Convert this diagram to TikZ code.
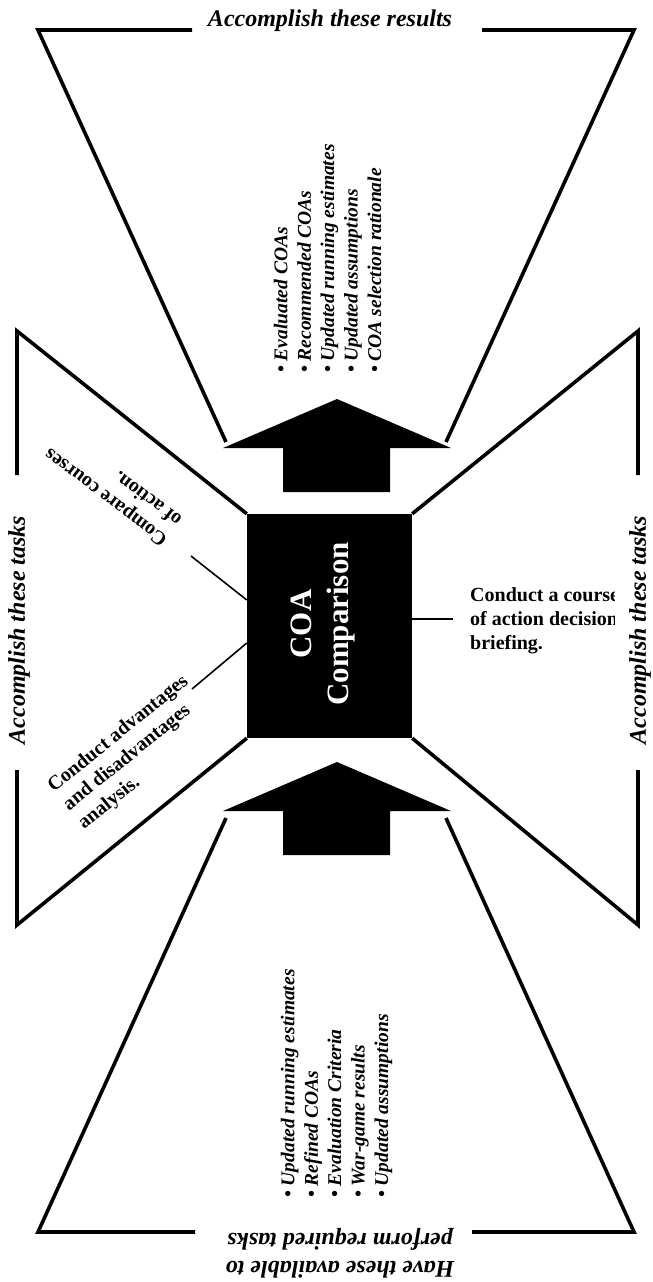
\documentclass[tikz,border=0pt]{standalone}
\usepackage{fontspec}
\setmainfont{Liberation Serif}
\begin{document}
\begin{tikzpicture}[x=1pt,y=-1pt,
  frame/.style={line width=3.6pt},
  leader/.style={line width=1.6pt},
  headtxt/.style={font=\fontsize{24}{28}\selectfont\bfseries\itshape, inner sep=0pt, align=center},
  tasktxt/.style={font=\fontsize{20}{24}\selectfont\bfseries, align=left, inner sep=0pt, anchor=base west},
  listtxt/.style={font=\fontsize{19.5}{23.4}\selectfont\bfseries\itshape, align=left, inner sep=0pt, rotate=90, anchor=base west},
  bigarrow/.style={fill=black}
]
\path[use as bounding box] (0,0) rectangle (653,1282);
\fill[white] (0,0) rectangle (653,1282);

% central block
\node[fill=black, minimum width=165pt, minimum height=224pt, inner sep=0pt] (box) at (329.5,626) {};
\node[rotate=90, text=white, font=\fontsize{31}{37}\selectfont\bfseries, align=center, inner sep=0pt] (boxlabel) at (323,624) {COA\\Comparison};

% corner points of the four funnels
\coordinate (tTL) at (38,30);   \coordinate (tTR) at (634,30);
\coordinate (tGapL) at (192,30); \coordinate (tGapR) at (482,30);
\coordinate (tBL) at (226,442); \coordinate (tBR) at (446,442);
\coordinate (bBL) at (38,1232); \coordinate (bBR) at (634,1232);
\coordinate (bGapL) at (195,1232); \coordinate (bGapR) at (472,1232);
\coordinate (bTL) at (226,818); \coordinate (bTR) at (446,818);
\coordinate (lTop) at (17,331); \coordinate (lBot) at (17,925);
\coordinate (lGapT) at (17,475); \coordinate (lGapB) at (17,770);
\coordinate (rTop) at (638,331); \coordinate (rBot) at (638,925);
\coordinate (rGapT) at (638,475); \coordinate (rGapB) at (638,770);

% results funnel (top)
\draw[frame] (tGapL) -- (tTL) -- (tBL);
\draw[frame] (tGapR) -- (tTR) -- (tBR);
% inputs funnel (bottom)
\draw[frame] (bGapL) -- (bBL) -- (bTL);
\draw[frame] (bGapR) -- (bBR) -- (bTR);
% task funnels (sides)
\draw[frame] (lGapT) -- (lTop) -- (box.north west);
\draw[frame] (lGapB) -- (lBot) -- (box.south west);
\draw[frame] (rGapT) -- (rTop) -- (box.north east);
\draw[frame] (rGapB) -- (rBot) -- (box.south east);

% block arrows
\fill[bigarrow] (337,399) -- (451,448) -- (390,448) -- (390,492) -- (283,492) -- (283,448) -- (223,448) -- cycle;
\fill[bigarrow] (337,762) -- (451,811) -- (390,811) -- (390,855) -- (283,855) -- (283,811) -- (223,811) -- cycle;

% headings
\node[headtxt, anchor=base] (hres) at (330,27) {Accomplish these results};
\node[headtxt, rotate=90] (htaskL) at (19,630) {Accomplish these tasks};
\node[headtxt, rotate=90] (htaskR) at (640,630) {Accomplish these tasks};
\node[headtxt, rotate=180] (hin) at (340,1253) {Have these available to\\perform required tasks};

% lists (anchored at the baseline of their last line)
\node[listtxt] (outs) at (381,373) {\textbullet\ Evaluated COAs\\\textbullet\ Recommended COAs\\\textbullet\ Updated running estimates\\\textbullet\ Updated assumptions\\\textbullet\ COA selection rationale};
\node[listtxt] (ins) at (388,1198) {\textbullet\ Updated running estimates\\\textbullet\ Refined COAs\\\textbullet\ Evaluation Criteria\\\textbullet\ War-game results\\\textbullet\ Updated assumptions};

% tasks (anchored at the baseline of their last line)
\node[tasktxt, rotate=143] (task1) at (183,518) {Compare courses\\of action.};
\node[tasktxt, rotate=39] (task2) at (84,830) {Conduct advantages\\and disadvantages\\analysis.};
\begin{scope}
  \clip (0,0) rectangle (614,1282);
  \node[tasktxt] (task3) at (470,649) {Conduct a course\\of action decision\\briefing.};
\end{scope}

% leaders from tasks to the block
\coordinate (k1out) at (191,556);
\coordinate (k1in) at ([yshift=26pt]box.west);
\coordinate (k2out) at (192,689);
\coordinate (k2in) at ([yshift=-17pt]box.west);
\coordinate (k3out) at (453,619);
\coordinate (k3in) at ([yshift=7pt]box.east);
\draw[leader] (k1out) -- (k1in);
\draw[leader] (k2out) -- (k2in);
\draw[leader] (k3in) -- (k3out);
\end{tikzpicture}
\end{document}
